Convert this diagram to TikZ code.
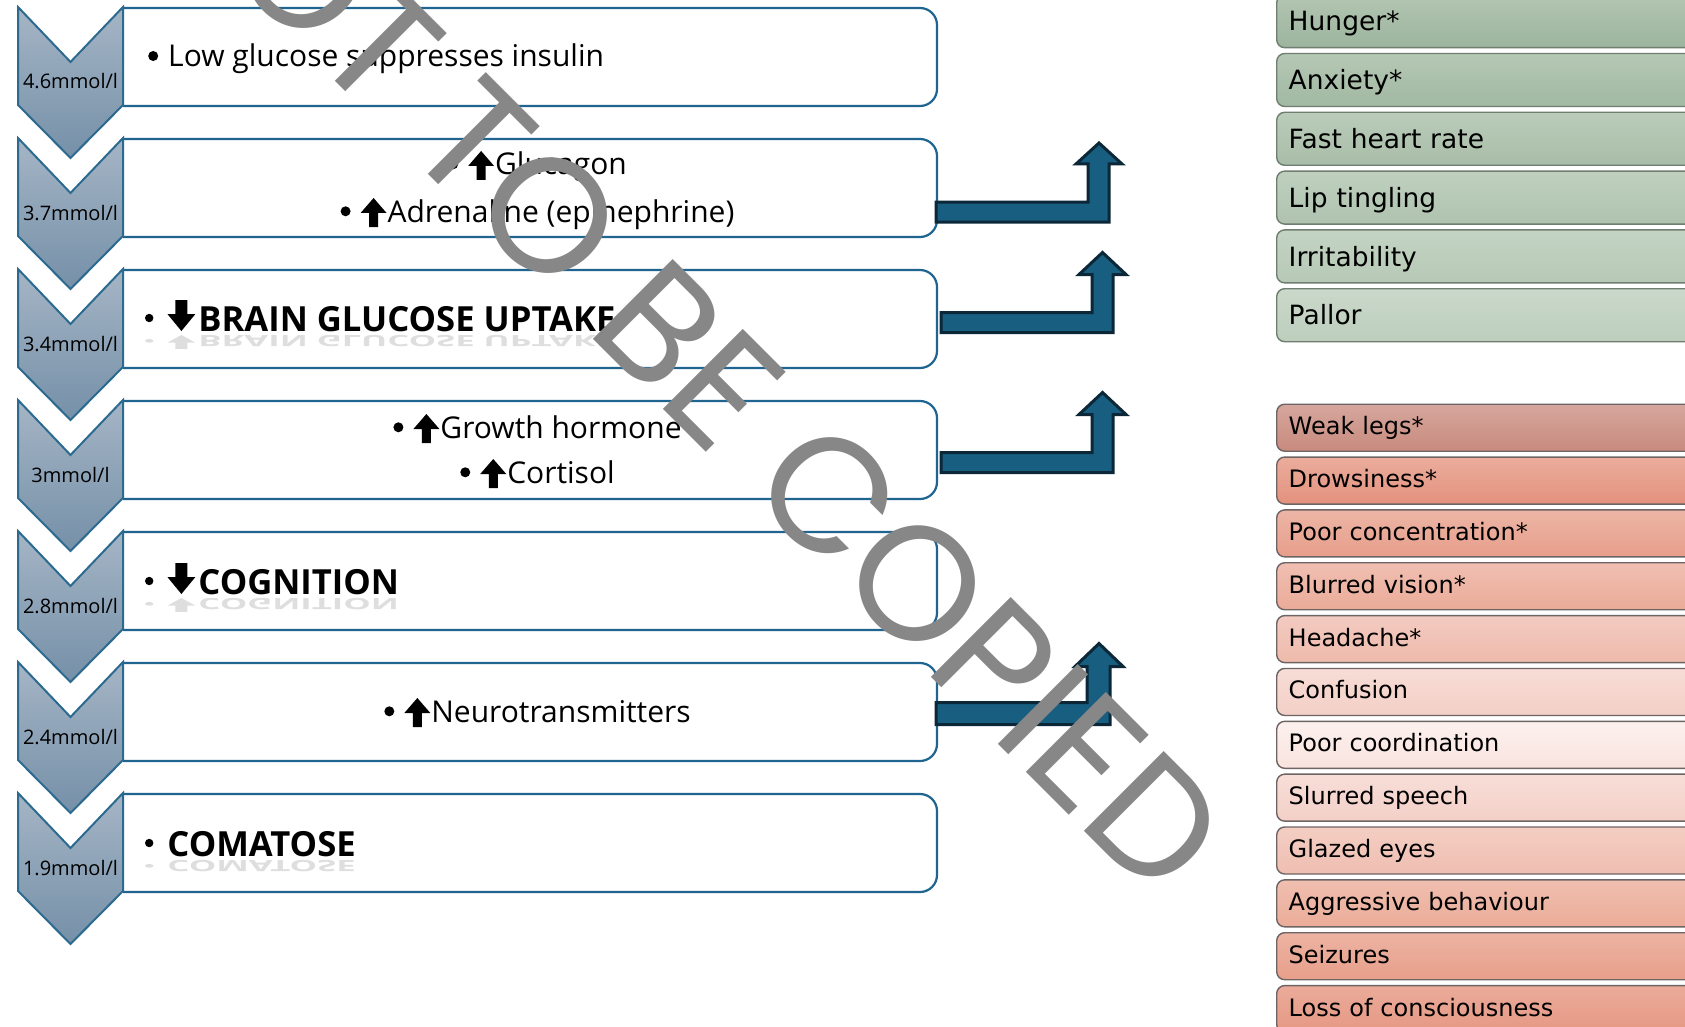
\documentclass[tikz,border=0pt]{standalone}
\usepackage{fontspec}
\setmainfont{Open Sans}
\newfontfamily\symfont{DejaVu Sans}
\newfontfamily\wmfont{Poppins}
\usetikzlibrary{calc}

\definecolor{boxblue}{HTML}{1F6590}
\definecolor{chevtop}{HTML}{A5B5C5}
\definecolor{chevbot}{HTML}{7590A8}
\definecolor{chevline}{HTML}{2C6A90}
\definecolor{arrfill}{HTML}{175E80}
\definecolor{arrline}{HTML}{0C2838}
\definecolor{wmgray}{HTML}{878787}
\definecolor{gline}{HTML}{6F7E70}
\definecolor{rline}{HTML}{6E6464}
\definecolor{g1t}{HTML}{B3C6B3}\definecolor{g1b}{HTML}{9CB49D}
\definecolor{g2t}{HTML}{B5C8B5}\definecolor{g2b}{HTML}{A1B8A2}
\definecolor{g3t}{HTML}{BACCBA}\definecolor{g3b}{HTML}{A8BDA8}
\definecolor{g4t}{HTML}{BFD0BF}\definecolor{g4b}{HTML}{AFC2AF}
\definecolor{g5t}{HTML}{C4D4C4}\definecolor{g5b}{HTML}{B6C8B6}
\definecolor{g6t}{HTML}{CAD8CA}\definecolor{g6b}{HTML}{BDCEBD}
\definecolor{r1t}{HTML}{D6A79D}\definecolor{r1b}{HTML}{C88A7E}
\definecolor{r2t}{HTML}{EBAD9D}\definecolor{r2b}{HTML}{E3917D}
\definecolor{r3t}{HTML}{EDB5A6}\definecolor{r3b}{HTML}{E79E8A}
\definecolor{r4t}{HTML}{F0BFB2}\definecolor{r4b}{HTML}{EBAB98}
\definecolor{r5t}{HTML}{F3CBC1}\definecolor{r5b}{HTML}{EEBAAB}
\definecolor{r6t}{HTML}{F7DDD6}\definecolor{r6b}{HTML}{F3CFC6}
\definecolor{r7t}{HTML}{FCF1EE}\definecolor{r7b}{HTML}{F9E3DE}
\definecolor{r8t}{HTML}{F7DED7}\definecolor{r8b}{HTML}{F3D0C8}
\definecolor{r9t}{HTML}{F4CEC3}\definecolor{r9b}{HTML}{EFBEB1}
\definecolor{r10t}{HTML}{F0BFB0}\definecolor{r10b}{HTML}{EBAC98}
\definecolor{r11t}{HTML}{EDB3A3}\definecolor{r11b}{HTML}{E79F8A}
\definecolor{r12t}{HTML}{EBAB9A}\definecolor{r12b}{HTML}{E59883}

\newcommand\UpA{\tikz[baseline=0pt,x=1pt,y=1pt]\fill (-4.5,-5) -- (4.5,-5) -- (4.5,9) -- (13,9) -- (0,24) -- (-13,9) -- (-4.5,9) -- cycle;}
\newcommand\DnA{\tikz[baseline=0pt,x=1pt,y=1pt]\fill (-6,31) -- (6,31) -- (6,17) -- (14,17) -- (0,0) -- (-14,17) -- (-6,17) -- cycle;}
\newcommand\BulR{\tikz[baseline=0pt,x=1pt,y=1pt]{\path (-1,0) rectangle (11,1);\fill (5,10.7) circle (5);}}
\newcommand\BulB{\tikz[baseline=0pt,x=1pt,y=1pt]{\path (-2,0) rectangle (8,1);\fill (4,13) circle (4.2);}}

\begin{document}
\begin{tikzpicture}[x=1pt,y=-1pt,
  boxarea/.style={minimum width=814pt, minimum height=98pt, inner sep=0pt, outer sep=0pt},
  boxline/.style={draw=boxblue, line width=2.2pt},
  chevron/.style={top color=chevtop, bottom color=chevbot, draw=chevline, line width=2pt, line join=miter},
  chevlabel/.style={anchor=base, inner sep=0pt, font=\fontsize{20}{24}\selectfont},
  txt/.style={inner sep=0pt, font=\fontsize{30}{36}\selectfont},
  boldtxt/.style={inner sep=0pt, font=\fontsize{34.6}{40}\selectfont\bfseries},
  refl/.style={boldtxt, anchor=base west, yscale=-0.45, text=black!13},
  bentarr/.style={fill=arrfill, draw=arrline, line width=3pt, line join=miter},
  symbox/.style={anchor=north west, text width=476pt, inner xsep=12pt, inner ysep=0pt,
    align=left, rounded corners=8pt, line width=1.4pt},
  gbox/.style={symbox, draw=gline, minimum height=53pt, text height=19.3pt, text depth=0pt,
    font=\symfont\fontsize{26.5}{30}\selectfont},
  rbox/.style={symbox, draw=rline, minimum height=47pt, text height=14pt, text depth=0pt,
    font=\symfont\fontsize{24}{28}\selectfont},
  wmark/.style={text=wmgray, inner sep=0pt, font=\wmfont\fontsize{162}{164}\selectfont}]

\path[use as bounding box, clip] (0,0) rectangle (1685,1027);
\fill[white] (0,0) rectangle (1685,1027);

% main boxes
\foreach \k in {0,...,6} {
  \pgfmathsetmacro\cyy{57+131*\k}
  \node[boxarea] (b\k) at (530,\cyy) {};
  \draw[boxline] (b\k.north west) -- ($(b\k.north east)+(-17,0)$)
     arc[start angle=-90, end angle=0, radius=17]
     -- ($(b\k.south east)+(0,-17)$)
     arc[start angle=0, end angle=90, radius=17]
     -- (b\k.south west);
}

% chevrons
\foreach \k in {0,...,6} {
  \pgfmathsetmacro\ctop{7+131*\k}
  \path[chevron] (18,\ctop) -- (70.5,\ctop+55) -- (123,\ctop) -- (123,\ctop+98)
     -- (70.5,\ctop+151) -- (18,\ctop+98) -- cycle;
}
\foreach \v [count=\i from 0] in {4.6,3.7,3.4,3,2.8,2.4,1.9} {
  \pgfmathsetmacro\cby{89+131*\i}
  \node[chevlabel] (c\i) at (70.5,\cby) {\v mmol/l};
}

% texts in boxes
\node[txt, anchor=base west] (t1) at (147,66.7) {\BulR\hspace{9pt}Low glucose suppresses insulin};
\node[txt, anchor=base] (t2a) at (537,175) {\BulR\hspace{9pt}\UpA\hspace{1pt}Glucagon};
\node[txt, anchor=base] (t2b) at (537,222) {\BulR\hspace{9pt}\UpA\hspace{1pt}Adrenaline (epinephrine)};
\node[refl] (t3r) at (143,335) {\BulB\hspace{14pt}\DnA\hspace{3pt}BRAIN GLUCOSE UPTAKE};
\node[boldtxt, anchor=base west] (t3) at (143,331) {\BulB\hspace{14pt}\DnA\hspace{3pt}BRAIN GLUCOSE UPTAKE};
\node[txt, anchor=base] (t4a) at (537,438) {\BulR\hspace{9pt}\UpA\hspace{1pt}Growth hormone};
\node[txt, anchor=base] (t4b) at (537,483) {\BulR\hspace{9pt}\UpA\hspace{1pt}Cortisol};
\node[refl] (t5r) at (143,598) {\BulB\hspace{14pt}\DnA\hspace{3pt}COGNITION};
\node[boldtxt, anchor=base west] (t5) at (143,594) {\BulB\hspace{14pt}\DnA\hspace{3pt}COGNITION};
\node[txt, anchor=base] (t6) at (537,722) {\BulR\hspace{9pt}\UpA\hspace{1pt}Neurotransmitters};
\node[refl] (t7r) at (143,860) {\BulB\hspace{14pt}COMATOSE};
\node[boldtxt, anchor=base west] (t7) at (143,856) {\BulB\hspace{14pt}COMATOSE};

% bent arrows
\draw[bentarr] ([shift={(-1,14)}]b1.east) -- ++(152,0) -- ++(0,-38) -- ++(-12,0)
   -- ++(23,-21) coordinate (h1) -- ++(23,21) -- ++(-13,0) -- ++(0,58) -- ++(-173,0) -- cycle;
\draw[bentarr] ([shift={(4,-6.5)}]b2.east) -- ++(151,0) -- ++(0,-38) -- ++(-13,0)
   -- ++(23.5,-22) coordinate (h2) -- ++(23.5,22) -- ++(-13,0) -- ++(0,58) -- ++(-172,0) -- cycle;
\draw[bentarr] ([shift={(4,2.5)}]b3.east) -- ++(151,0) -- ++(0,-38) -- ++(-13,0)
   -- ++(23.5,-22) coordinate (h3) -- ++(23.5,22) -- ++(-13,0) -- ++(0,58) -- ++(-172,0) -- cycle;
\draw[bentarr] ([shift={(-1,-9.5)}]b5.east) -- ++(151,0) -- ++(0,-36) -- ++(-12,0)
   -- ++(24,-23) coordinate (h4) -- ++(24,23) -- ++(-13,0) -- ++(0,58) -- ++(-174,0) -- cycle;

% symptom boxes
\foreach \s [count=\i from 0] in {Hunger*,Anxiety*,Fast heart rate,Lip tingling,Irritability,Pallor} {
  \pgfmathtruncatemacro\ci{\i+1}
  \pgfmathsetmacro\gy{-6+58.8*\i}
  \node[gbox, top color=g\ci t, bottom color=g\ci b] (g\i) at (1276,\gy) {\s};
}
\foreach \s [count=\i from 0] in {Weak legs*,Drowsiness*,Poor concentration*,Blurred vision*,Headache*,Confusion,Poor coordination,Slurred speech,Glazed eyes,Aggressive behaviour,Seizures,Loss of consciousness} {
  \pgfmathtruncatemacro\ci{\i+1}
  \pgfmathsetmacro\ry{403.5+52.85*\i}
  \node[rbox, top color=r\ci t, bottom color=r\ci b] (r\i) at (1276,\ry) {\s};
}

% watermark
\node[wmark, rotate=-45] (wm) at (688,354) {NOT TO BE COPIED};
\end{tikzpicture}
\end{document}
